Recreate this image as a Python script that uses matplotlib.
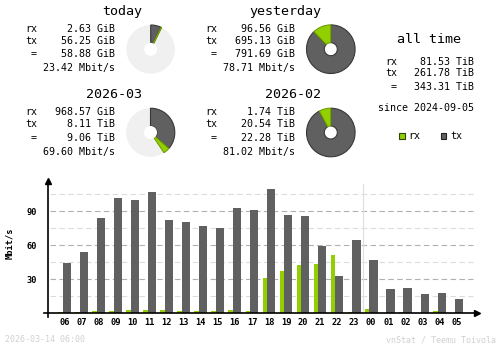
import matplotlib
matplotlib.use("Agg")
import matplotlib.pyplot as plt
from matplotlib.patches import Wedge, Circle, Rectangle

# Hourly average rates (Mbit/s)
hours = ["06", "07", "08", "09", "10", "11", "12", "13", "14", "15", "16", "17",
         "18", "19", "20", "21", "22", "23", "00", "01", "02", "03", "04", "05"]
rx_rate = [1.4, 1.2, 2.3, 2.2, 3.0, 3.0, 3.0, 2.2, 2.2, 2.0, 3.0, 2.2,
           31.2, 37.3, 42.6, 43.5, 51.5, 1.2, 3.8, 0.3, 1.2, 0.3, 2.2, 0.3]
tx_rate = [44.7, 54.4, 84.4, 101.7, 100.0, 107.0, 82.4, 80.8, 77.0, 75.3, 93.0, 91.2,
           109.7, 86.8, 85.9, 59.4, 32.9, 64.7, 47.0, 21.5, 22.4, 17.0, 18.0, 12.6]
y_ticks = [30, 60, 90]

# Summary periods, traffic in GiB
periods = ["today", "yesterday", "2026-03", "2026-02"]
period_rx = [2.63, 96.56, 968.57, 1.74 * 1024]
period_tx = [56.25, 695.13, 8.11 * 1024, 20.54 * 1024]
period_rate = [23.42, 78.71, 69.60, 81.02]

alltime_rx = 81.53
alltime_tx = 261.78
alltime_since = "2024-09-05"
stamp = "2026-03-14 06:00"

RX = "#92cf00"
RX_EDGE = "#6f9e00"
TX = "#606060"
TX_EDGE = "#383838"
MONO = "DejaVu Sans Mono"


def fmt(gib, unit=None):
    if unit == "TiB" or (unit is None and gib >= 1024):
        return f"{gib / 1024:.2f} TiB"
    return f"{gib:.2f} GiB"


fig = plt.figure(figsize=(5, 3.48), dpi=100)
fig.patch.set_facecolor("white")

# overlay in pixel coordinates for the summary blocks
top = fig.add_axes([0, 0, 1, 1])
top.set_xlim(0, 500)
top.set_ylim(348, 0)
top.axis("off")

blocks = [
    # label x, value right, title right, title y, row ys, pie centre
    (25, 115, 142, 11.7, [29.3, 41.3, 54.0, 68.3], (150.7, 49.3)),
    (205, 295, 321, 11.7, [29.3, 41.3, 54.0, 68.3], (330.8, 49.2)),
    (25, 115, 142, 94.0, [111.7, 124.3, 137.7, 152.3], (150.5, 132.5)),
    (205, 295, 321, 94.0, [111.7, 124.3, 137.7, 152.3], (330.8, 132.5)),
]
# today and the current month are drawn against the previous period
reference = [1, None, 3, None]

for i, (lx, vx, tx_, ty, rows, (cx, cy)) in enumerate(blocks):
    rx, tx = period_rx[i], period_tx[i]
    total = rx + tx
    top.text(tx_, ty, periods[i], ha="right", va="center", fontsize=9.6,
             family=MONO)
    for lab, val, y in zip(["rx", "tx", " ="], [rx, tx, total], rows[:3]):
        top.text(lx, y, lab, ha="left", va="center", fontsize=7.2, family=MONO)
        top.text(vx, y, fmt(val), ha="right", va="center", fontsize=7.2,
                 family=MONO)
    top.text(vx, rows[3], f"{period_rate[i]:.2f} Mbit/s", ha="right",
             va="center", fontsize=7.2, family=MONO)

    r_out, r_in = 24.3, 6.5
    ref = reference[i]
    if ref is not None:
        frac = total / (period_rx[ref] + period_tx[ref])
        top.add_patch(Circle((cx, cy), r_out, facecolor="#f0f0f0",
                             edgecolor="none"))
        top.add_patch(Circle((cx, cy), r_in, facecolor="white",
                             edgecolor="none", zorder=3))
    else:
        frac = 1.0
    span = 360 * frac
    a_tx = span * tx / total
    # clockwise from 12 o'clock (y axis is inverted)
    top.add_patch(Wedge((cx, cy), r_out, 270, 270 + a_tx, width=r_out - r_in,
                        facecolor=TX, edgecolor=TX_EDGE, lw=0.8, zorder=2))
    top.add_patch(Wedge((cx, cy), r_out, 270 + a_tx, 270 + span,
                        width=r_out - r_in, facecolor=RX, edgecolor=RX_EDGE,
                        lw=0.8, zorder=2))

# all time block
top.text(429, 39.3, "all time", ha="center", va="center", fontsize=9.6,
         family=MONO)
for lab, val, y in zip(["rx", "tx", " ="],
                       [alltime_rx, alltime_tx, alltime_rx + alltime_tx],
                       [62.3, 73.3, 87.0]):
    top.text(385, y, lab, ha="left", va="center", fontsize=7.2, family=MONO)
    top.text(474.3, y, f"{val:.2f} TiB", ha="right", va="center",
             fontsize=7.2, family=MONO)
top.text(474.3, 108.3, f"since {alltime_since}", ha="right", va="center",
         fontsize=7.2, family=MONO)

# legend
for x0, col, edge, lab in [(399, RX, "#2f4400", "rx"), (440.7, TX, "#202020", "tx")]:
    top.add_patch(Rectangle((x0, 133.3), 5.5, 5.5, facecolor=col,
                            edgecolor=edge, lw=0.8))
    top.text(x0 + 9.5, 136, lab, ha="left", va="center", fontsize=7.2,
             family=MONO)

# footer
top.text(5, 340, stamp, ha="left", va="center", fontsize=6, family=MONO,
         color="#d0d0d0")
top.text(496, 340, "vnStat / Teemu Toivola", ha="right", va="center",
         fontsize=6, family=MONO, color="#d0d0d0")

# hourly chart
px = 17.03                      # pixels per hour slot
x0_px, x1_px = 48, 477
y0_px, y1_px = 313.3, 181
ppu = 34 / 30                   # pixels per Mbit/s
xmin = (x0_px - 64.7) / px
xmax = (x1_px - 64.7) / px
ymax = (y0_px - y1_px) / ppu

ax = fig.add_axes([x0_px / 500, (348 - y0_px) / 348,
                   (x1_px - x0_px) / 500, (y0_px - y1_px) / 348])
ax.set_xlim(xmin, xmax)
ax.set_ylim(0, ymax)
ax.patch.set_alpha(0)

idx = list(range(len(hours)))
gx = [(50 - 64.7) / px, (472.7 - 64.7) / px]
for v in [15, 45, 75, 105]:
    ax.plot(gx, [v, v], color="#dcdcdc", lw=0.8, dashes=(5, 3), zorder=1)
for v in y_ticks:
    ax.plot(gx, [v, v], color="#b0b0b0", lw=0.8, dashes=(5, 3), zorder=1)
ax.plot([17.5, 17.5], [0, 114], color="#e0e0e0", lw=0.9, zorder=1)

ax.bar([i - 0.382 for i in idx], rx_rate, width=0.276, align="edge",
       color=RX, zorder=2)
ax.bar([i - 0.106 for i in idx], tx_rate, width=0.476, align="edge",
       color=TX, zorder=2)

for s in ["top", "right", "left", "bottom"]:
    ax.spines[s].set_visible(False)
ax.plot([(44 - 64.7) / px, xmax], [0, 0], color="black", lw=1.2,
        clip_on=False, zorder=4)
ax.plot([xmin, xmin], [-3.4 / ppu, ymax], color="black", lw=1.2,
        clip_on=False, zorder=4)
ax.plot([xmax], [0], marker=">", color="black", ms=4, clip_on=False, zorder=5)
ax.plot([xmin], [ymax], marker="^", color="black", ms=4, clip_on=False,
        zorder=5)

ax.set_xticks(idx, hours)
ax.set_yticks(y_ticks, [str(v) for v in y_ticks])
ax.tick_params(axis="x", length=0, pad=3.6)
ax.tick_params(axis="y", length=0, pad=8)
for lab in ax.get_xticklabels() + ax.get_yticklabels():
    lab.set_family(MONO)
    lab.set_fontsize(6.2)
    lab.set_fontweight("bold")
ax.set_ylabel("Mbit/s", family=MONO, fontsize=6.2, fontweight="bold")
ax.yaxis.set_label_coords((14.5 - x0_px) / (x1_px - x0_px),
                          (y0_px - 243.7) / (y0_px - y1_px))

fig.savefig("out.png", dpi=100)
